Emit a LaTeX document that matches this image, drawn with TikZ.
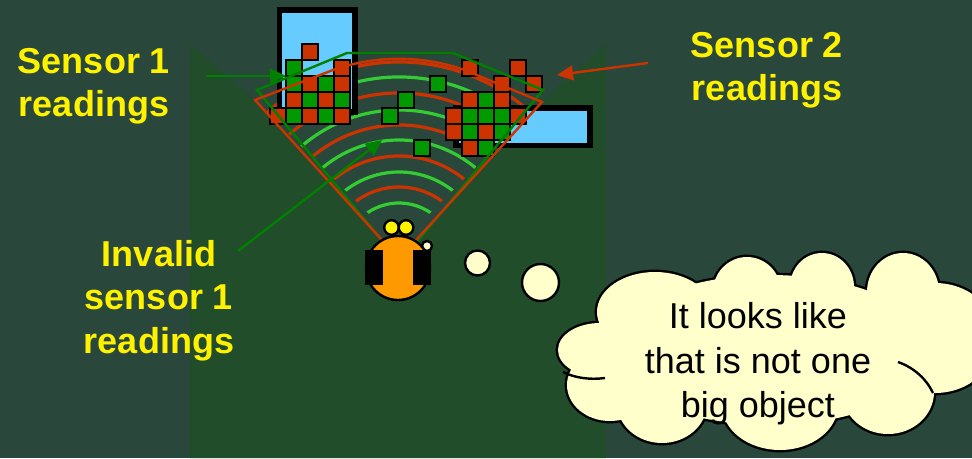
\documentclass[tikz,border=0pt]{standalone}
\usepackage{fontspec}
\setmainfont{Liberation Sans}
\usepackage{tikz}
\usetikzlibrary{arrows.meta}

\definecolor{slate}{HTML}{29473A}
\definecolor{floorgrn}{HTML}{214D2A}
\definecolor{sonarred}{HTML}{CC3300}
\definecolor{sonargrn}{HTML}{33CC33}
\definecolor{cellgrn}{HTML}{009900}
\definecolor{beamgrn}{HTML}{008000}
\definecolor{wallblue}{HTML}{66CCFF}
\definecolor{cream}{HTML}{FFFFCC}
\definecolor{robotorange}{HTML}{FF9900}

\begin{document}
\begin{tikzpicture}[x=0.75pt,y=0.75pt,yscale=-1,xscale=1,
  redcell/.style={fill=sonarred,draw=black,line width=2.2pt},
  grncell/.style={fill=cellgrn,draw=black,line width=2.2pt},
  wall/.style={fill=wallblue,draw=black,line width=4.4pt},
  beamone/.style={draw=beamgrn,line width=1.8pt},
  beamtwo/.style={draw=sonarred,line width=1.8pt},
  pingr/.style={draw=sonarred,line width=2.4pt},
  pingg/.style={draw=sonargrn,line width=2.4pt},
  lbl/.style={text=yellow,font=\fontsize{27}{32.5}\selectfont\bfseries,align=center,inner sep=0pt},
  saytxt/.style={text=black,font=\fontsize{27}{33.5}\selectfont,align=center,inner sep=0pt},
  pointer/.style={line width=1.8pt,-{Triangle[length=12pt,width=11pt]}},
  bubble/.style={fill=cream,draw=black,line width=1.8pt}]
\clip (0,0) rectangle (972,458);
\fill[slate] (0,0) rectangle (972,458);

%Shape: floor panel, sensor wedge left open
\fill[floorgrn] (190,44) -- (255,100) -- (391,250) -- (407,250) -- (542,102) -- (606,44) -- (606,458) -- (190,458) -- cycle;

%Arcs: sonar rings
\begin{scope}
\clip (399,244) -- (99,-56) -- (699,-56) -- cycle;
\foreach \r/\s in {56/pingg,72/pingr,87/pingg,103/pingr,119/pingg,134/pingr,149/pingg,166/pingr,182/pingg,197/pingr}
  \draw[\s] (399,259) ++(-155:\r) arc[start angle=-155,end angle=-25,radius=\r];
\end{scope}

%Shape: walls
\draw[wall] (279.5,10) rectangle (355,112);
\draw[wall] (456,108) rectangle (590,145.5);

%Shape: grid cells (column/row, 16px each)
\foreach \c/\r in {2/0,4/1,2/2,4/2,1/3,3/3,0/4,2/4,4/4,12/1,15/1,14/2,16/2,12/3,14/3,11/4,15/4,11/5,13/5,12/6}
  \draw[redcell] ({270+16*\c},{44+16*\r}) rectangle ++(16,16);
\foreach \c/\r in {1/1,1/2,3/2,2/3,4/3,1/4,3/4,13/3,12/4,13/4,14/4,12/5,14/5,13/6,10/2,8/3,7/4,9/6}
  \draw[grncell] ({270+16*\c},{44+16*\r}) rectangle ++(16,16);

%Shape: sensor footprints
\draw[beamone] (390,250) -- (257,90) -- (347,53) -- (453,53) -- (543,90) -- (410,250) -- cycle;
\draw[beamtwo] (391,250) -- (255,100) -- (333,70) arc[start angle=-109.3,end angle=-70.6,radius=199] -- (542,102) -- (407,250) -- cycle;

% Text Node
\node[lbl] (sone) at (94,86.5) {Sensor 1\\readings};
% Text Node
\node[lbl] (stwo) at (767,70) {Sensor 2\\readings};
% Text Node
\node[lbl] (invalid) at (159,300.5) {Invalid\\sensor 1\\readings};

%Straight Lines: pointers
\coordinate (sonetail) at (206,76);
\coordinate (sonetip) at (286,76);
\coordinate (stwotail) at (648,63);
\coordinate (stwotip) at (557,75);
\coordinate (invtail) at (238,251);
\coordinate (invtip) at (382,140);
\draw[pointer,beamgrn] (sonetail) -- (sonetip);
\draw[pointer,sonarred] (stwotail) -- (stwotip);
\draw[pointer,beamgrn] (invtail) -- (invtip);

%Shape: thought bubbles
\draw[bubble] (427,246) circle[radius=5];
\draw[bubble] (477.5,263) circle[radius=12.5];
\draw[bubble] (540.5,282.5) circle[radius=18.5];

%Shape: robot
\draw[fill=robotorange,line width=1.8pt] (398,268) circle[radius=32];
\fill (365,250) rectangle (383,285);
\fill (413,250) rectangle (431,285);
\draw[fill=yellow,line width=1.8pt] (391.5,227.5) circle[radius=7.3];
\draw[fill=yellow,line width=1.8pt] (406,227.5) circle[radius=7.3];

%Shape: cloud
\foreach \x/\y/\a/\b in {655/312/58/40,747/292/34/35,822/287/32/34,903/292/36/39,935/338/62/55,888/392/46/42,780/405/58/45,662/403/45/40,610/385/43/36,600/350/42/27,770/350/160/75}
  \draw[line width=3.6pt] (\x,\y) ellipse[x radius=\a,y radius=\b];
\foreach \x/\y/\a/\b in {655/312/58/40,747/292/34/35,822/287/32/34,903/292/36/39,935/338/62/55,888/392/46/42,780/405/58/45,662/403/45/40,610/385/43/36,600/350/42/27,770/350/160/75}
  \fill[cream] (\x,\y) ellipse[x radius=\a,y radius=\b];
\draw[line width=1.8pt] (563,372) .. controls (575,378) and (590,380) .. (605,378);
\draw[line width=1.8pt] (898,362) .. controls (915,368) and (927,380) .. (933,393);

% Text Node
\node[saytxt] (thought) at (758,364) {It looks like\\that is not one\\big object};

\end{tikzpicture}
\end{document}
